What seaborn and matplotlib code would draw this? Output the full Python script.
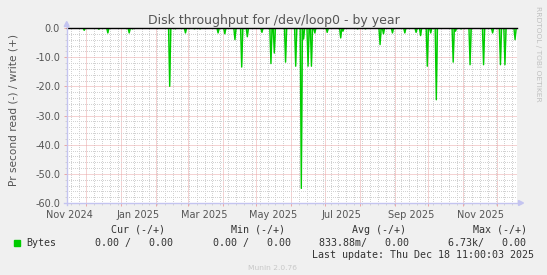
import numpy as np
import pandas as pd
import matplotlib
matplotlib.use("Agg")
import matplotlib.pyplot as plt
import matplotlib.dates as mdates
import matplotlib.ticker as mticker
from matplotlib.patches import Rectangle, Polygon
from matplotlib.lines import Line2D
import seaborn as sns

# ---------------- data ----------------
title = "Disk throughput for /dev/loop0 - by year"
y_label = "Pr second read (-) / write (+)"
series_name = "Bytes"

range_start = "2024-11-13 11:00"
range_end = "2025-12-18 11:00"
day_first = "2024-11-14"
day_last = "2025-12-18"

spike_dates = [
    "2024-11-29", "2024-12-12", "2024-12-20", "2025-01-08", "2025-01-11",
    "2025-02-13", "2025-02-18", "2025-02-27", "2025-03-07", "2025-03-12",
    "2025-03-28", "2025-04-03", "2025-04-12", "2025-04-18", "2025-04-23",
    "2025-05-06", "2025-05-14", "2025-05-17", "2025-05-27", "2025-06-05",
    "2025-06-10", "2025-06-12", "2025-06-16", "2025-06-19", "2025-06-22",
    "2025-07-03", "2025-07-15", "2025-07-17", "2025-07-30", "2025-08-06",
    "2025-08-19", "2025-08-22", "2025-08-30", "2025-09-10", "2025-09-20",
    "2025-09-24", "2025-09-30", "2025-10-03", "2025-10-08", "2025-10-23",
    "2025-10-25", "2025-10-30", "2025-11-07", "2025-11-19", "2025-11-27",
    "2025-12-04", "2025-12-08", "2025-12-17",
]
spike_values = [
    -0.8, -0.4, -1.7, -1.7, -0.3,
    -20.0, -0.3, -1.7, -0.3, -0.3,
    -1.7, -2.0, -4.0, -13.4, -3.0,
    -1.5, -12.2, -8.6, -11.7, -13.1,
    -55.0, -3.8, -13.1, -13.1, -1.7,
    -1.5, -3.4, -1.1, -0.3, -0.3,
    -5.7, -2.0, -1.7, -1.7, -1.5,
    -2.6, -13.1, -1.7, -24.6, -11.7,
    -1.1, -0.3, -12.6, -12.6, -1.7,
    -12.6, -12.6, -4.0,
]

y_ticks = [0, -10, -20, -30, -40, -50, -60]
y_tick_labels = ["0.0", "-10.0", "-20.0", "-30.0", "-40.0", "-50.0", "-60.0"]
y_minor_ticks = [-2, -4, -6, -8, -12, -14, -16, -18, -22, -24, -26, -28,
                 -32, -34, -36, -38, -42, -44, -46, -48, -52, -54, -56, -58]

x_label_dates = ["2024-11-16", "2025-01-16", "2025-03-16", "2025-05-16",
                 "2025-07-16", "2025-09-16", "2025-11-16"]
x_tick_labels = ["Nov 2024", "Jan 2025", "Mar 2025", "May 2025",
                 "Jul 2025", "Sep 2025", "Nov 2025"]

legend_headers = ["Cur (-/+)", "Min (-/+)", "Avg (-/+)", "Max (-/+)"]
legend_values = ["0.00 /   0.00", "0.00 /   0.00", "833.88m/   0.00", "6.73k/   0.00"]
last_update = "Last update: Thu Dec 18 11:00:03 2025"
footer = "Munin 2.0.76"
watermark = "RRDTOOL / TOBI OETIKER"

# ---------------- figure ----------------
W, H = 547, 275
BG = "#F0F0F0"
GREEN = "#00CC00"
AXIS_C = "#C4C4F0"
MINOR_C = "#D2D2D2"
MAJOR_C = "#EBA6A6"
TXT = "#555555"
LEG = "#333333"

def fx(x):
    return x / W

def fy(y):
    return 1 - y / H

fig = plt.figure(figsize=(W / 100, H / 100), dpi=100, facecolor=BG)
ax = fig.add_axes([fx(66.7), fy(203), 450 / W, 175 / H])
ax.set_facecolor("white")

days = pd.date_range(day_first, day_last, freq="D")
read = pd.Series(0.0, index=days)
read.loc[pd.to_datetime(spike_dates)] = spike_values
df = pd.DataFrame({"date": days, "value": read.values})

ax.fill_between(df["date"], df["value"], 0, color=GREEN, alpha=0.4, lw=0, zorder=3)
sns.lineplot(data=df, x="date", y="value", color=GREEN, lw=1.0, ax=ax, zorder=4)
ax.axhline(0, color="black", lw=1.0, zorder=6, clip_on=False)

ax.set_xlim(pd.Timestamp(range_start), pd.Timestamp(range_end))
ax.set_ylim(-60, 0)
ax.set_xlabel("")
ax.set_ylabel("")

# grid / ticks
ax.xaxis.set_major_locator(mdates.MonthLocator())
ax.xaxis.set_minor_locator(mdates.WeekdayLocator(byweekday=mdates.SU))
ax.xaxis.set_major_formatter(mticker.NullFormatter())
ax.set_yticks(y_ticks, labels=y_tick_labels)
ax.set_yticks(y_minor_ticks, minor=True)

ax.grid(which="minor", color=MINOR_C, lw=0.72, linestyle=(0, (1, 2)),
        antialiased=False, zorder=1)
ax.grid(which="major", color=MAJOR_C, lw=0.72, linestyle=(0, (1, 1)),
        antialiased=True, zorder=2)
ax.set_axisbelow(True)

ax.tick_params(axis="both", which="major", direction="out", length=2.2, width=0.7,
               color=MAJOR_C, labelsize=7, labelcolor=TXT)
ax.tick_params(axis="both", which="minor", direction="out", length=1.2, width=0.7,
               color=MINOR_C)
ax.tick_params(axis="y", which="major", pad=2.6)

for s in ax.spines.values():
    s.set_visible(False)

# axis lines with arrows (rrdtool style)
fig.add_artist(Line2D([fx(66.7), fx(66.7)], [fy(205), fy(24)], color=AXIS_C, lw=1.0,
                      transform=fig.transFigure))
fig.add_artist(Line2D([fx(64), fx(520)], [fy(203), fy(203)], color=AXIS_C, lw=1.0,
                      transform=fig.transFigure))
fig.add_artist(Polygon([[fx(64.2), fy(26.5)], [fx(69.2), fy(26.5)], [fx(66.7), fy(21.5)]],
                       closed=True, color=AXIS_C, transform=fig.transFigure))
fig.add_artist(Polygon([[fx(518.5), fy(200.5)], [fx(518.5), fy(205.5)], [fx(523.5), fy(203)]],
                       closed=True, color=AXIS_C, transform=fig.transFigure))

# month labels at mid-month
for d, lab in zip(x_label_dates, x_tick_labels):
    ax.text(mdates.date2num(pd.Timestamp(d)), -15 / 175, lab,
            transform=ax.get_xaxis_transform(), ha="center", va="baseline",
            fontsize=7, color=TXT, clip_on=False)

# texts
fig.text(fx(273.5), fy(24), title, ha="center", va="baseline", fontsize=9, color=TXT)
fig.text(fx(14), fy(110), y_label, rotation=90, ha="center", va="center",
         fontsize=7.6, color=TXT)
fig.text(fx(538), fy(53.4), watermark, rotation=270, ha="center", va="center",
         fontsize=5.4, color="#C0C0C0")

mono = "DejaVu Sans Mono"
fig.add_artist(Rectangle((fx(14), fy(245.5)), 6 / W, 6 / H, color=GREEN,
                         transform=fig.transFigure))
fig.text(fx(26.2), fy(245.8), series_name, family=mono, fontsize=7.2, color=LEG,
         va="baseline", ha="left")
for xh, h in zip([111, 231.3, 352.4, 472.8], legend_headers):
    fig.text(fx(xh), fy(232.6), h, family=mono, fontsize=7.2, color=LEG,
             va="baseline", ha="left")
for xv, v in zip([95.3, 212.8, 318.6, 448.4], legend_values):
    fig.text(fx(xv), fy(245.8), v, family=mono, fontsize=7.2, color=LEG,
             va="baseline", ha="left")
fig.text(fx(311.6), fy(258), last_update, family=mono, fontsize=7.2, color=LEG,
         va="baseline", ha="left")
fig.text(fx(273), fy(270), footer, ha="center", va="baseline", fontsize=5.4,
         color="#C8C8C8")

fig.savefig("out.png", dpi=100, facecolor=BG)
